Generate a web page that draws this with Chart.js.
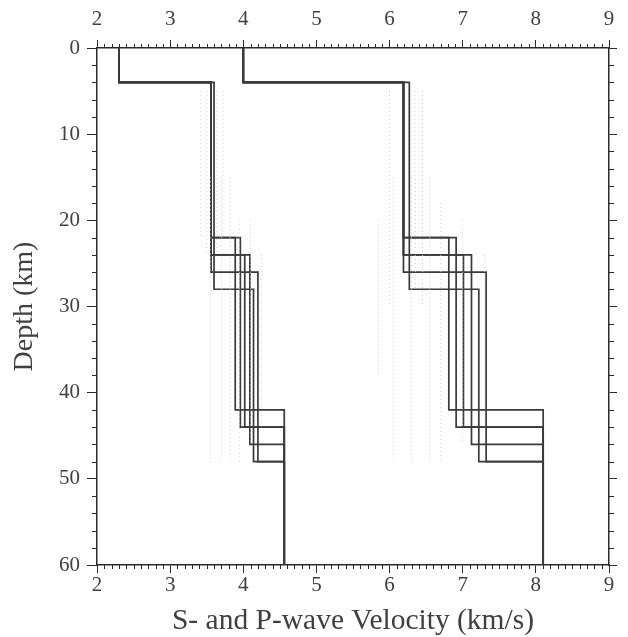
<!DOCTYPE html>
<html><head><meta charset="utf-8">
<script src="https://cdn.jsdelivr.net/npm/chart.js@4.4.1/dist/chart.umd.min.js"></script>
<style>html,body{margin:0;padding:0;background:#fff}#wrap{width:628px;height:637px}</style>
</head><body><div id="wrap"><canvas id="c" width="628" height="637"></canvas></div>
<script>
// ---- data ----
const surfaceLayerBottom = 4;      // km
const profileBottom = 60;          // km
const sSurface = 2.3;              // km/s
const pSurface = 4.0;              // km/s
const midCrustDepths = [22, 22, 24, 24, 26, 28];
const mohoDepths     = [42, 44, 44, 46, 48, 48];
const sUpperCrust = [3.56, 3.56, 3.56, 3.56, 3.56, 3.60];
const sLowerCrust = [3.89, 3.96, 4.02, 4.09, 4.20, 4.14];
const pUpperCrust = [6.19, 6.19, 6.19, 6.19, 6.19, 6.27];
const pLowerCrust = [6.81, 6.91, 7.01, 7.12, 7.32, 7.22];
const sMantle = 4.56;
const pMantle = 8.10;
// faint range traces (velocity, top depth, bottom depth)
const rangeVel    = [3.42, 3.50, 3.64, 3.72, 3.55, 3.70, 3.82, 3.95, 4.10, 4.25, 5.85, 6.00, 6.35, 6.45, 6.05, 6.30, 6.55, 6.70, 7.00, 7.30];
const rangeTop    = [5, 5, 5, 5, 15, 15, 15, 20, 20, 24, 20, 5, 5, 5, 15, 15, 15, 18, 20, 24];
const rangeBottom = [22, 24, 24, 22, 48, 48, 48, 48, 46, 44, 38, 30, 28, 30, 48, 48, 48, 48, 46, 44];
const xTickValues = [2, 3, 4, 5, 6, 7, 8, 9];
const yTickValues = [0, 10, 20, 30, 40, 50, 60];

// ---- build datasets ----
function profile(surf, up, low, mid, moho, mantle) {
  return [
    {x: surf, y: 0}, {x: surf, y: surfaceLayerBottom},
    {x: up, y: surfaceLayerBottom}, {x: up, y: mid},
    {x: low, y: mid}, {x: low, y: moho},
    {x: mantle, y: moho}, {x: mantle, y: profileBottom}
  ];
}
const datasets = [];
rangeVel.forEach((v, i) => {
  datasets.push({data: [{x: v, y: rangeTop[i]}, {x: v, y: rangeBottom[i]}],
    borderColor: '#d2d2d2', borderWidth: 1, borderDash: [1, 3], showLine: true, pointRadius: 0});
});
midCrustDepths.forEach((m, i) => {
  datasets.push({data: profile(sSurface, sUpperCrust[i], sLowerCrust[i], m, mohoDepths[i], sMantle),
    borderColor: '#3a3a3a', borderWidth: 1.7, showLine: true, pointRadius: 0});
  datasets.push({data: profile(pSurface, pUpperCrust[i], pLowerCrust[i], m, mohoDepths[i], pMantle),
    borderColor: '#3a3a3a', borderWidth: 1.7, showLine: true, pointRadius: 0});
});

const FONT = "'Liberation Serif', 'DejaVu Serif', serif";
const TXT = '#404040';
const AX = '#2a2a2a';

const minorTicks = {
  id: 'minorTicks',
  afterDraw(chart) {
    const {ctx, chartArea: a, scales} = chart;
    ctx.save();
    ctx.strokeStyle = AX; ctx.lineWidth = 1;
    ctx.beginPath();
    for (let k = 20; k <= 90; k++) {
      if (k % 10 === 0) continue;
      const px = Math.round(scales.x.getPixelForValue(k / 10)) + 0.5;
      ctx.moveTo(px, a.bottom); ctx.lineTo(px, a.bottom + 4);
      ctx.moveTo(px, a.top); ctx.lineTo(px, a.top - 4);
    }
    for (let d = 0; d <= 60; d += 2) {
      if (d % 10 === 0) continue;
      const py = Math.round(scales.y.getPixelForValue(d)) + 0.5;
      ctx.moveTo(a.left, py); ctx.lineTo(a.left - 5, py);
      ctx.moveTo(a.right, py); ctx.lineTo(a.right + 5, py);
    }
    ctx.stroke();
    ctx.restore();
  }
};

const xTickCfg = {
  stepSize: 1, color: TXT, font: {family: FONT, size: 21},
  callback: v => xTickValues.includes(v) ? String(v) : ''
};

new Chart(document.getElementById('c'), {
  type: 'scatter',
  data: {datasets},
  plugins: [minorTicks],
  options: {
    responsive: false, animation: false,
    layout: {padding: 0},
    plugins: {legend: {display: false}, tooltip: {enabled: false}},
    scales: {
      x: {
        type: 'linear', position: 'bottom', min: 2, max: 9,
        afterFit: s => { s.height = 72; },
        ticks: Object.assign({padding: 0}, xTickCfg),
        grid: {drawOnChartArea: false, tickLength: 8, color: AX},
        border: {display: true, color: AX, width: 1.5},
        title: {display: true, text: 'S- and P-wave Velocity (km/s)', color: TXT,
          font: {family: FONT, size: 29.5, lineHeight: 1.0}, padding: {top: 0, bottom: 1}}
      },
      x2: {
        type: 'linear', position: 'top', min: 2, max: 9,
        afterFit: s => { s.height = 48; },
        ticks: Object.assign({padding: 8}, xTickCfg),
        grid: {drawOnChartArea: false, tickLength: 8, color: AX},
        border: {display: true, color: AX, width: 1.5}
      },
      y: {
        type: 'linear', position: 'left', reverse: true, min: 0, max: 60,
        afterFit: s => { s.width = 97; },
        ticks: {stepSize: 10, color: TXT, font: {family: FONT, size: 21}, padding: 7,
          callback: v => yTickValues.includes(v) ? String(v) : ''},
        grid: {drawOnChartArea: false, tickLength: 10, color: AX},
        border: {display: true, color: AX, width: 1.5},
        title: {display: true, text: 'Depth (km)', color: TXT,
          font: {family: FONT, size: 28, lineHeight: 1.0}, padding: {top: 11, bottom: 0}}
      },
      y2: {
        type: 'linear', position: 'right', reverse: true, min: 0, max: 60,
        afterFit: s => { s.width = 19; },
        ticks: {stepSize: 10, display: false},
        grid: {drawOnChartArea: false, tickLength: 8, color: AX},
        border: {display: true, color: AX, width: 1.5}
      }
    }
  }
});
</script></body></html>
